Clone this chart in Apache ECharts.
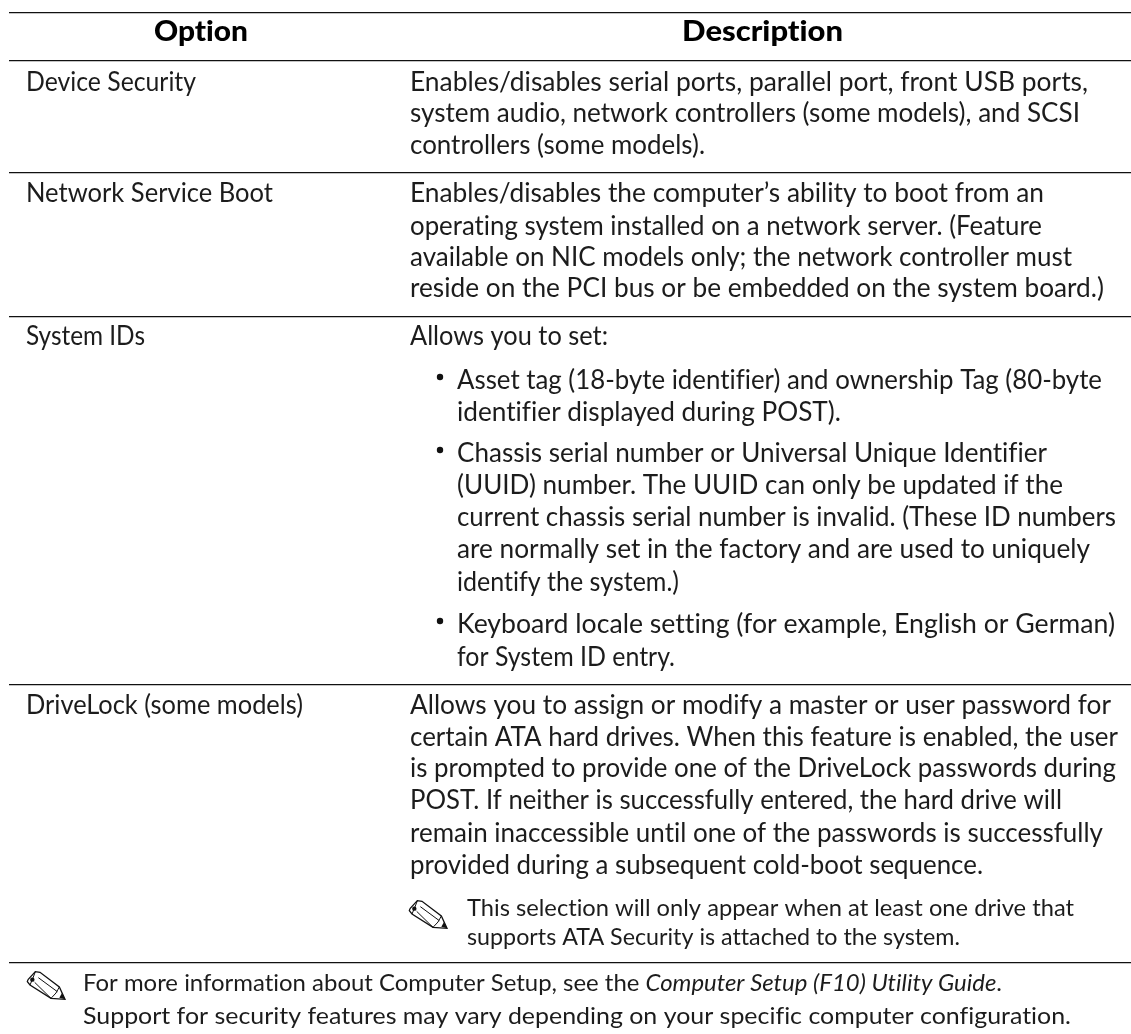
<!DOCTYPE html>
<html><head><meta charset="utf-8">
<style>html,body{margin:0;padding:0;background:#fff}#c{width:1131px;height:1034px}</style>
<script src="https://cdn.jsdelivr.net/npm/echarts@6/dist/echarts.min.js"></script>
</head><body><div id="c"></div>
<script>
const headers = ["Option", "Description"];
const options = ["Device Security", "Network Service Boot", "System IDs", "DriveLock (some models)"];
const row1Lines = ["Enables/disables serial ports, parallel port, front USB ports,", "system audio, network controllers (some models), and SCSI", "controllers (some models)."];
const row2Lines = ["Enables/disables the computer’s ability to boot from an", "operating system installed on a network server. (Feature", "available on NIC models only; the network controller must", "reside on the PCI bus or be embedded on the system board.)"];
const row3Intro = ["Allows you to set:"];
const row3Bullet1 = ["Asset tag (18-byte identifier) and ownership Tag (80-byte", "identifier displayed during POST)."];
const row3Bullet2 = ["Chassis serial number or Universal Unique Identifier", "(UUID) number. The UUID can only be updated if the", "current chassis serial number is invalid. (These ID numbers", "are normally set in the factory and are used to uniquely", "identify the system.)"];
const row3Bullet3 = ["Keyboard locale setting (for example, English or German)", "for System ID entry."];
const row4Lines = ["Allows you to assign or modify a master or user password for", "certain ATA hard drives. When this feature is enabled, the user", "is prompted to provide one of the DriveLock passwords during", "POST. If neither is successfully entered, the hard drive will", "remain inaccessible until one of the passwords is successfully", "provided during a subsequent cold-boot sequence."];
const row4Note = ["This selection will only appear when at least one drive that", "supports ATA Security is attached to the system."];
const footer1 = ["For more information about Computer Setup, see the ", "Computer Setup (F10) Utility Guide", "."];
const footer2 = "Support for security features may vary depending on your specific computer configuration.";

// Disable ligatures so the text reads like the plain reference setting.
const _gc = HTMLCanvasElement.prototype.getContext;
HTMLCanvasElement.prototype.getContext = function(t,o){const c=_gc.call(this,t,o); if(c&&t==='2d'){try{c.textRendering='optimizeSpeed'}catch(e){}} return c;};

const FONT = "Lato", INK = '#1c1c1c';
const mctx = document.createElement('canvas').getContext('2d');
function measure(s,size,weight,style){mctx.font=`${style||'normal'} ${weight||'normal'} ${size}px ${FONT}`;return mctx.measureText(s).width;}
const els = [];
function rule(y){els.push({type:'rect',shape:{x:9,y:y,width:1122,height:1.3},style:{fill:'#111'},silent:true});}
function txt(s,x,y,size,endX,extra){
  const e={type:'text',x:x,y:y+1,silent:true,style:Object.assign({text:s,fontFamily:FONT,fontSize:size,fill:INK,verticalAlign:'middle'},extra||{})};
  if(endX){e.scaleX=(endX-x)/measure(s,size,extra&&extra.fontWeight,extra&&extra.fontStyle);}
  els.push(e);
}
function block(lines,x,ys,ends,size){lines.forEach((l,i)=>txt(l,x,ys[i],size,ends[i]));}
function pencil(ox,oy){
  const k=1/3, P=a=>a.map(p=>[ox+p[0]*k,oy+p[1]*k]);
  const line=(a,w)=>els.push({type:'polyline',silent:true,shape:{points:P(a)},style:{stroke:'#111',lineWidth:w||1,fill:null}});
  line([[24,44],[46,20],[60,22],[118,66],[135,103],[93,100],[30,60],[22,50],[24,44]],1.3);
  line([[46,20],[40,36],[30,60]],1);
  line([[55,38],[112,80]],1);
  line([[44,52],[93,100]],1);
  line([[118,66],[108,84],[93,100]],1);
  els.push({type:'circle',silent:true,shape:{cx:ox+37*k,cy:oy+44*k,r:2.2},style:{fill:'#111'}});
  els.push({type:'polygon',silent:true,shape:{points:P([[135,103],[118,98],[126,84]])},style:{fill:'#111'}});
}
[12,60,172,316,684,962].forEach(rule);
txt(headers[0],154,31,28,248,{fontWeight:900,fill:'#000'});
txt(headers[1],682,31,28,843,{fontWeight:900,fill:'#000'});
const colA=26, colB=410, bulX=457, S=26;
[0,1,2,3].forEach(i=>txt(options[i],colA,[82,193,336,705][i],S,[196,273,145,303][i]));
block(row1Lines,colB,[82,113,145],[1088,1080,705],S);
block(row2Lines,colB,[193,226,257,288],[1044,1042,1072,1104],S);
block(row3Intro,colB,[336],[608],S);
block(row3Bullet1,bulX,[380,412],[1102,841],S);
block(row3Bullet2,bulX,[453,485,517,549,582],[1047,1063,1116,1090,679],S);
block(row3Bullet3,bulX,[624,657],[1115,675],S);
[380,453,624].forEach(y=>els.push({type:'circle',silent:true,shape:{cx:440,cy:y-3,r:3.2},style:{fill:'#111'}}));
block(row4Lines,colB,[705,737,768,800,833,865],[1111,1118,1116,1062,1103,983],S);
pencil(402,894);
block(row4Note,467,[908,937],[1074,960],22.5);
pencil(20,965);
const fs=23.5;
const fw=measure(footer1[0],fs)+measure(footer1[1],fs,'normal','italic')+measure(footer1[2],fs);
els.push({type:'text',x:83,y:983,scaleX:(1002-83)/fw,silent:true,style:{text:`{n|${footer1[0]}}{i|${footer1[1]}}{n|${footer1[2]}}`,verticalAlign:'middle',rich:{n:{fontFamily:FONT,fontSize:fs,fill:INK},i:{fontFamily:FONT,fontSize:fs,fontStyle:'italic',fill:INK}}}});
txt(footer2,83,1015,fs,1071);
const chart=echarts.init(document.getElementById('c'),null,{renderer:'canvas'});
chart.setOption({animation:false,backgroundColor:'#fff',graphic:{elements:els}});
</script></body></html>
